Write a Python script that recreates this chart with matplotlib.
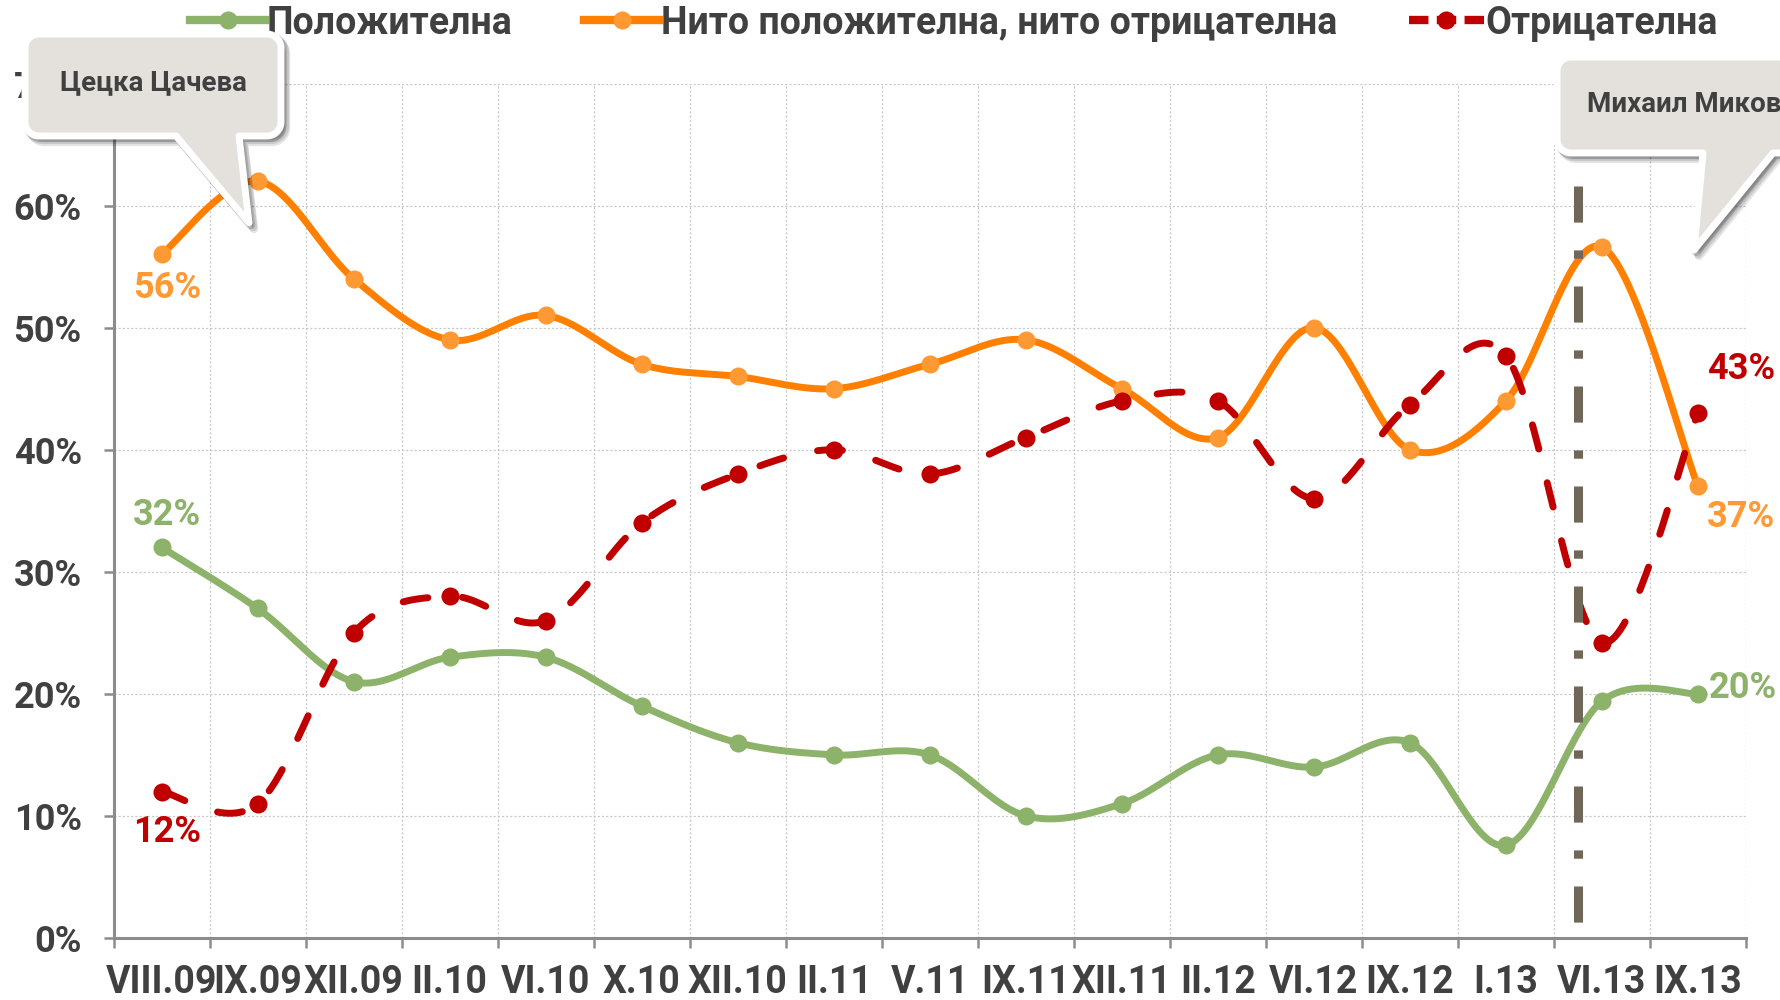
import numpy as np
import matplotlib
matplotlib.use("Agg")
import matplotlib.pyplot as plt
from matplotlib.lines import Line2D
from matplotlib.patches import Polygon

# ---------------- data ----------------
categories = ["VIII.09", "IX.09", "XII.09", "II.10", "VI.10", "X.10", "XII.10", "II.11",
              "V.11", "IX.11", "XII.11", "II.12", "VI.12", "IX.12", "I.13", "VI.13", "IX.13"]
positive = [32, 27, 21, 23, 23, 19, 16, 15, 15, 10, 11, 15, 14, 16, 7.6, 19.4, 20]
neutral = [56, 62, 54, 49, 51, 47, 46, 45, 47, 49, 45, 41, 50, 40, 44, 56.6, 37]
negative = [12, 11, 25, 28, 26, 34, 38, 40, 38, 41, 44, 44, 36, 43.7, 47.7, 24.2, 43]
series_names = ["Положителна", "Нито положителна, нито отрицателна", "Отрицателна"]
yticks = [0, 10, 20, 30, 40, 50, 60, 70]
event_x = 15.25      # change of chair, between I.13 and VI.13
event_top = 61.6
callout_texts = ["Цецка Цачева", "Михаил Миков"]

W, H = 1781, 1000
FONT = ["Roboto", "DejaVu Sans"]
TXT = "#404040"
C_GREEN = "#8cb369"
C_ORANGE = "#ff8000"
C_ORANGE_M = "#ff9933"
C_RED = "#c00000"
C_EVENT = "#716759"

plt.rcParams["font.family"] = FONT
plt.rcParams["lines.scale_dashes"] = False

fig = plt.figure(figsize=(W / 100, H / 100), dpi=100)
ax = fig.add_axes([113.6 / W, 1 - 938 / H, (1746 - 113.6) / W, (938 - 83.5) / H])

n = len(categories)
xc = np.arange(n) + 0.5


def smooth(x, y, steps=40):
    x = np.asarray(x, float)
    y = np.asarray(y, float)
    px = np.concatenate([[x[0]], x, [x[-1]]])
    py = np.concatenate([[y[0]], y, [y[-1]]])
    outx, outy = [], []
    t = np.linspace(0, 1, steps)
    for i in range(len(x) - 1):
        p0 = np.array([px[i + 1], py[i + 1]])
        p3 = np.array([px[i + 2], py[i + 2]])
        pm = np.array([px[i], py[i]])
        pp = np.array([px[i + 3], py[i + 3]])
        c1 = p0 + (p3 - pm) / 6.0
        c2 = p3 - (pp - p0) / 6.0
        bx = ((1 - t) ** 3) * p0[0] + 3 * ((1 - t) ** 2) * t * c1[0] + 3 * (1 - t) * t ** 2 * c2[0] + t ** 3 * p3[0]
        by = ((1 - t) ** 3) * p0[1] + 3 * ((1 - t) ** 2) * t * c1[1] + 3 * (1 - t) * t ** 2 * c2[1] + t ** 3 * p3[1]
        outx.extend(bx if i == 0 else bx[1:])
        outy.extend(by if i == 0 else by[1:])
    return np.array(outx), np.array(outy)


LW = 5
MS = 13

sx, sy = smooth(xc, positive)
ax.plot(sx, sy, color=C_GREEN, lw=LW, solid_capstyle="round", zorder=3)
ax.plot(xc, positive, "o", color=C_GREEN, ms=MS, mec="none", zorder=4)

sx, sy = smooth(xc, neutral)
ax.plot(sx, sy, color=C_ORANGE, lw=LW, solid_capstyle="round", zorder=3)
ax.plot(xc, neutral, "o", color=C_ORANGE_M, ms=MS, mec="none", zorder=4)

sx, sy = smooth(xc, negative)
ax.plot(sx, sy, color=C_RED, lw=LW, dashes=(18, 25), dash_capstyle="round", zorder=5)
ax.plot(xc, negative, "o", color=C_RED, ms=MS, mec="none", zorder=6)

# event line (drawn top -> bottom so the pattern starts with a dash at the top)
ax.plot([event_x, event_x], [event_top, 0], color=C_EVENT, lw=6.5,
        dashes=(26, 20, 6, 20), dash_capstyle="butt", zorder=7)

# data labels
lab_kw = dict(textcoords="offset points", fontsize=26, fontweight="bold", zorder=8)
ax.annotate(f"{neutral[0]:.0f}%", (xc[0], neutral[0]), xytext=(4, -24), ha="center", va="center", color=C_ORANGE_M, **lab_kw)
ax.annotate(f"{positive[0]:.0f}%", (xc[0], positive[0]), xytext=(4, 23), ha="center", va="center", color=C_GREEN, **lab_kw)
ax.annotate(f"{negative[0]:.0f}%", (xc[0], negative[0]), xytext=(4, -29), ha="center", va="center", color=C_RED, **lab_kw)
ax.annotate(f"{negative[-1]:.0f}%", (xc[-1], negative[-1]), xytext=(31, 32), ha="center", va="center", color=C_RED, **lab_kw)
ax.annotate(f"{neutral[-1]:.0f}%", (xc[-1], neutral[-1]), xytext=(31, -22), ha="center", va="center", color=C_ORANGE_M, **lab_kw)
ax.annotate(f"{positive[-1]:.0f}%", (xc[-1], positive[-1]), xytext=(8, 4), ha="left", va="center", color=C_GREEN, **lab_kw)

# axes styling
ax.set_xlim(0, n)
ax.set_ylim(0, 70)
ax.set_yticks(yticks)
ax.set_yticklabels([f"{v}%" for v in yticks], fontsize=26, fontweight="bold", color=TXT)
ax.set_xticks(np.arange(n + 1))
ax.set_xticklabels([])
ax.set_xticks(xc, minor=True)
ax.set_xticklabels(categories, minor=True, fontsize=27, fontweight="bold", color=TXT)
ax.tick_params(axis="x", which="major", length=7, width=1.8, color="#8c8c8c", direction="out")
ax.tick_params(axis="x", which="minor", length=0, pad=19)
ax.tick_params(axis="y", length=7, width=1.8, color="#8c8c8c", pad=16)
for s in ["top", "right"]:
    ax.spines[s].set_visible(False)
for s in ["left", "bottom"]:
    ax.spines[s].set_color("#8c8c8c")
    ax.spines[s].set_linewidth(2.2)
ax.grid(True, which="major", color="#c8c8c8", lw=0.9, ls=(0, (1.5, 1.5)))
ax.set_axisbelow(True)

# legend
handles = [
    Line2D([], [], color=C_GREEN, lw=6, marker="o", ms=MS, mec="none"),
    Line2D([], [], color=C_ORANGE, lw=6, marker="o", ms=MS, mfc=C_ORANGE_M, mec="none"),
    Line2D([], [], color=C_RED, lw=6, marker="o", ms=MS, mec="none", dashes=(14, 6)),
]
leg = fig.legend(handles, series_names, loc="center", bbox_to_anchor=(954 / W, 1 - 23 / H), ncol=3,
                 frameon=False, handlelength=2.0, handletextpad=0.05, columnspacing=1.9,
                 prop=dict(size=27, weight="bold"))
for t in leg.get_texts():
    t.set_color(TXT)


# callouts
def callout_pts(x0, y0, x1, y1, r, bl, br, tip):
    pts = []

    def arc(cx, cy, a0, a1):
        for a in np.linspace(np.radians(a0), np.radians(a1), 10):
            pts.append((cx + r * np.cos(a), cy + r * np.sin(a)))

    arc(x1 - r, y0 + r, -90, 0)
    arc(x1 - r, y1 - r, 0, 90)
    pts.append((br, y1))
    pts.append(tip)
    pts.append((bl, y1))
    arc(x0 + r, y1 - r, 90, 180)
    arc(x0 + r, y0 + r, 180, 270)
    return [(x / W, 1 - y / H) for x, y in pts]


def draw_callout(x0, y0, x1, y1, bl, br, tip, text, tx, ty, ha):
    pts = callout_pts(x0, y0, x1, y1, 14, bl, br, tip)
    for k, (dx, dy, a) in enumerate([(5, 6, 0.10), (4, 4, 0.12), (2, 2, 0.15)]):
        sh = [(px + dx / W, py - dy / H) for px, py in pts]
        fig.patches.append(Polygon(sh, closed=True, transform=fig.transFigure, facecolor="#000000",
                                   edgecolor="#000000", alpha=a, lw=6, joinstyle="round", zorder=9))
    fig.patches.append(Polygon(pts, closed=True, transform=fig.transFigure, facecolor="#e4e1dc",
                               edgecolor="white", lw=5, joinstyle="round", zorder=10))
    fig.text(tx / W, 1 - ty / H, text, ha=ha, va="center", fontsize=20, fontweight="bold",
             color=TXT, zorder=11)


draw_callout(25, 34, 281, 136, 176, 239, (249, 223), callout_texts[0], 153, 83, "center")
draw_callout(1557, 57, 1840, 153, 1703, 1773, (1694, 250), callout_texts[1], 1587, 105, "left")

fig.savefig("out.png", dpi=100)
